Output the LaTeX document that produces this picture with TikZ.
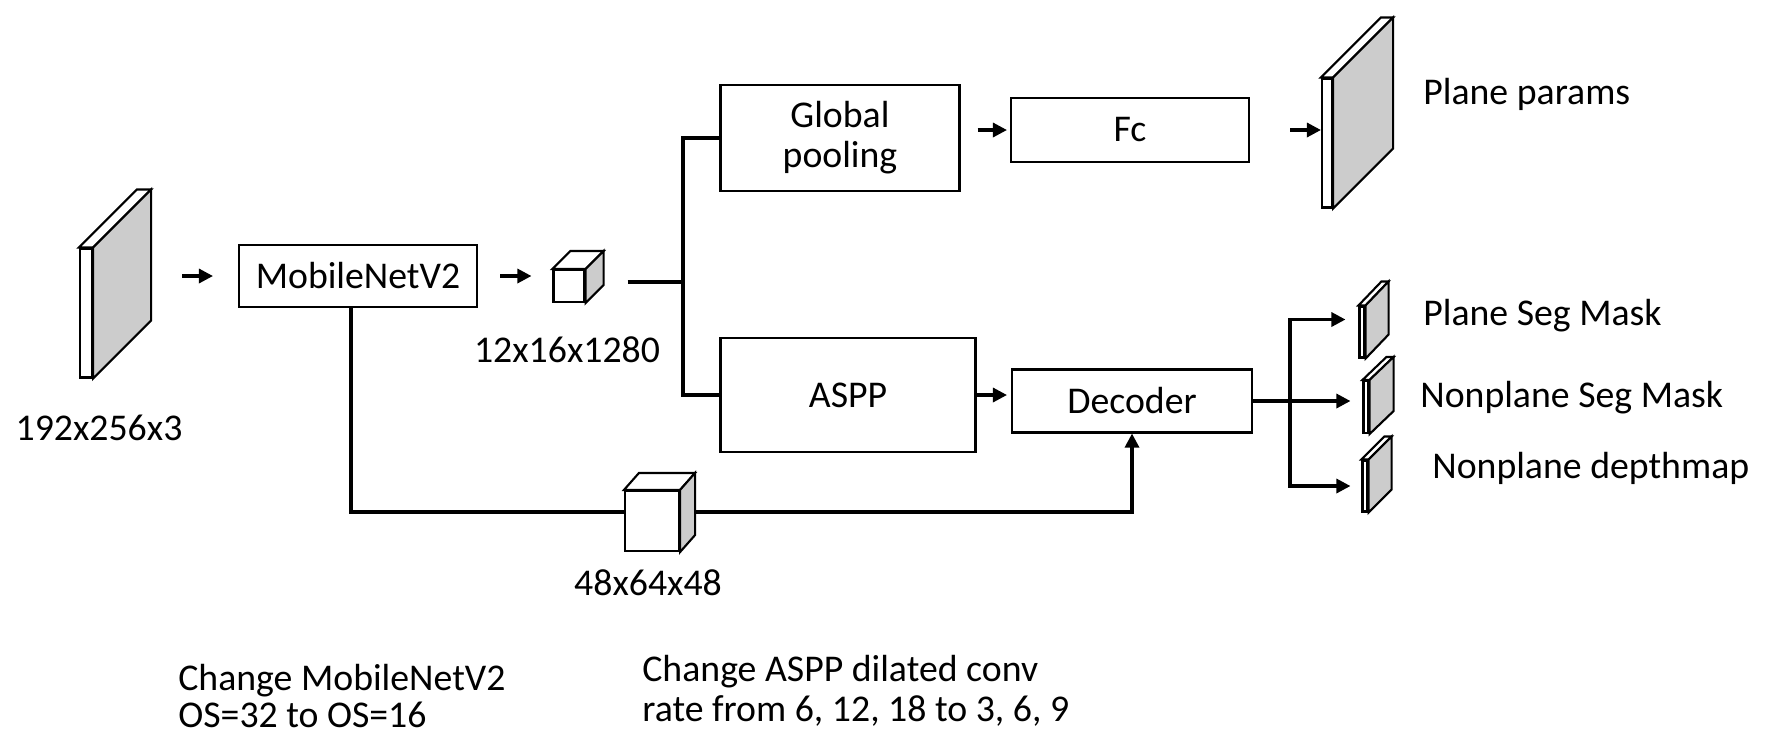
\documentclass[tikz,border=0pt]{standalone}
\usepackage{fontspec}
\setmainfont{Carlito}
\usepackage{tikz}
\usetikzlibrary{arrows.meta}
\usepackage{xcolor}

\tikzset{
  block/.style={draw, line width=1.2pt, rectangle, align=center, font=\fontsize{21.5}{22.8}\selectfont},
  face/.style={draw, line width=1.2pt, fill=white, inner sep=0pt},
  conn/.style={line width=1.8pt},
  arr/.style={line width=1.8pt, -{Triangle[length=8pt,width=8pt]}},
  lbl/.style={inner sep=0pt, font=\fontsize{21.5}{21.6}\selectfont},
}
% top and side of a feature map, drawn behind-right of its front face
\newcommand{\mapdepth}[3]{%
  \draw[face] (#1.north west) -- ++(#2,#3) -- ([shift={(#2,#3)}]#1.north east) -- (#1.north east) -- cycle;
  \draw[face, fill=gray!40] (#1.north east) -- ++(#2,#3) -- ([shift={(#2,#3)}]#1.south east) -- (#1.south east) -- cycle;
}

\begin{document}
\begin{tikzpicture}[x=0.02cm, y=-0.02cm]
    \useasboundingbox (0,0) rectangle (1767,755);

    \node[block, minimum width=4.76cm, minimum height=1.24cm] (mobilenet) at (358,276) {MobileNetV2};
    \node[block, minimum width=4.78cm, minimum height=2.12cm] (gpool) at (840,138) {Global\\pooling};
    \node[block, minimum width=4.76cm, minimum height=1.28cm] (fc) at (1130,130) {Fc};
    \node[block, minimum width=5.10cm, minimum height=2.28cm] (aspp) at (848,395) {ASPP};
    \node[block, minimum width=4.80cm, minimum height=1.26cm] (decoder) at (1132,401) {Decoder};

    % feature maps
    \node[face, minimum width=0.24cm, minimum height=2.58cm] (inmap) at (86,313) {};
    \mapdepth{inmap}{58}{-58}
    \node[face, minimum width=0.62cm, minimum height=0.64cm] (enccube) at (569,286) {};
    \mapdepth{enccube}{18}{-18}
    \node[face, minimum width=0.20cm, minimum height=2.58cm] (params) at (1327,143) {};
    \mapdepth{params}{60}{-60}
    \node[face, minimum width=0.10cm, minimum height=1.02cm] (segmap) at (1362,332) {};
    \mapdepth{segmap}{23}{-24}
    \node[face, minimum width=0.10cm, minimum height=1.04cm] (npmap) at (1366,407) {};
    \mapdepth{npmap}{24}{-23}
    \node[face, minimum width=0.10cm, minimum height=1.02cm] (depmap) at (1365,486) {};
    \mapdepth{depmap}{23}{-23}

    \coordinate (split) at (683,282);
    \coordinate (skipl) at (351,512);
    \coordinate (skipr) at (1132,512);
    \coordinate (fork) at (1290,401);

    \draw[arr, shorten <=1.78cm, shorten >=0.5cm] (inmap.east |- mobilenet.west) -- (mobilenet.west);
    \draw[arr, shorten <=0.44cm, shorten >=0.42cm] (mobilenet.east) -- (enccube.west |- mobilenet.east);
    \draw[conn, shorten <=0.84cm] (enccube.east |- split) -- (split);
    \draw[conn] (gpool.west) -| (split) |- (aspp.west);
    \draw[arr, shorten <=0.34cm, shorten >=0.06cm] (gpool.east |- fc.west) -- (fc.west);
    \draw[arr, shorten <=0.8cm] (fc.east) -- (params.west |- fc.east);
    \draw[arr, shorten >=0.08cm] (aspp.east) -- (aspp.east -| decoder.west);
    \draw[arr] (mobilenet.south -| skipl) -- (skipl) -- (skipr) -- (skipr |- decoder.south);
    \draw[conn] (decoder.east) -- (fork);
    \draw[arr, shorten >=0.26cm] (fork) |- ([yshift=0.25cm]segmap.west);
    \draw[arr, shorten >=0.24cm] (fork) -- (npmap.west |- fork);
    \draw[arr, shorten >=0.22cm] (fork) |- (depmap.west);

    \node[face, minimum width=1.08cm, minimum height=1.20cm] (lowcube) at (652,521) {};
    \mapdepth{lowcube}{15}{-17}

    % sizes and outputs
    \node[lbl] (insize) at (99,428) {192x256x3};
    \node[lbl] (encsize) at (567,350) {12x16x1280};
    \node[lbl] (lowsize) at (648,583) {48x64x48};
    \node[lbl, anchor=west] (paramstxt) at (1423,94) {Plane params};
    \node[lbl, anchor=west] (segtxt) at (1423,316) {Plane Seg Mask};
    \node[lbl, anchor=west] (nptxt) at (1420,398) {Nonplane Seg Mask};
    \node[lbl, anchor=west] (deptxt) at (1432,468) {Nonplane depthmap};

    % notes
    \node[lbl, anchor=west, align=left] (note1) at (178,696) {Change MobileNetV2\\OS=32 to OS=16};
    \node[lbl, anchor=west, align=left, font=\fontsize{21.5}{22.8}\selectfont] (note2) at (642,691) {Change ASPP dilated conv\\rate from 6, 12, 18 to 3, 6, 9};
\end{tikzpicture}
\end{document}
